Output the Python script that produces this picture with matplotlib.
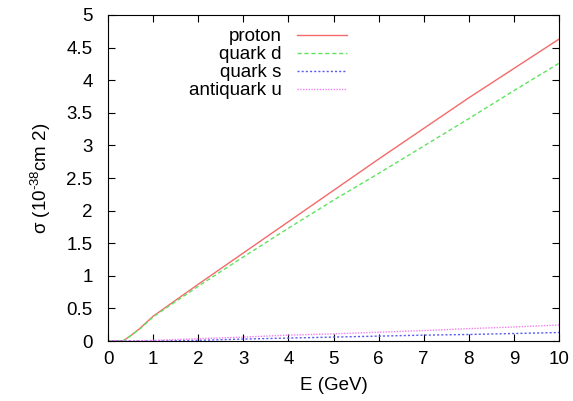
import matplotlib
matplotlib.use("Agg")
import matplotlib.pyplot as plt

plt.rcParams['font.family'] = ['Liberation Sans', 'DejaVu Sans']
plt.rcParams['mathtext.fontset'] = 'custom'
plt.rcParams['mathtext.rm'] = 'Liberation Sans'
plt.rcParams['mathtext.it'] = 'Liberation Sans'

E = [0.0, 0.33, 0.5, 0.7, 1.0, 2.0, 3.0, 4.0, 5.0, 6.0, 7.0, 8.0, 9.0, 10.0]
proton = [0.0, 0.0, 0.08, 0.19, 0.38, 0.87, 1.35, 1.83, 2.31, 2.79, 3.26, 3.73, 4.18, 4.63]
quark_d = [0.0, 0.0, 0.08, 0.18, 0.37, 0.84, 1.29, 1.73, 2.16, 2.57, 2.99, 3.41, 3.84, 4.26]
quark_s = [0.0, 0.0, 0.0, 0.0, 0.0, 0.01, 0.03, 0.045, 0.06, 0.075, 0.09, 0.10, 0.115, 0.13]
antiquark_u = [0.0, 0.0, 0.0, 0.005, 0.01, 0.035, 0.06, 0.09, 0.11, 0.135, 0.16, 0.19, 0.215, 0.245]

xticks = list(range(0, 11))
yticks = [0, 0.5, 1, 1.5, 2, 2.5, 3, 3.5, 4, 4.5, 5]
ytick_labels = ['0', '0.5', '1', '1.5', '2', '2.5', '3', '3.5', '4', '4.5', '5']

fig = plt.figure(figsize=(5.73, 4.01), dpi=100)
ax = fig.add_axes([0.1885, 0.1496, 0.7871, 0.8130])

ax.plot(E, proton, color='#f46a6a', lw=1.0, ls='-', label='proton')
ax.plot(E, quark_d, color='#5fe35f', lw=1.0, ls=(0, (3, 2)), label='quark d')
ax.plot(E, quark_s, color='#5a5af2', lw=1.0, ls=(0, (1.5, 1.5)), label='quark s')
ax.plot(E, antiquark_u, color='#f280f2', lw=1.0, ls=(0, (1, 1)), label='antiquark u')

ax.set_xlim(0, 10)
ax.set_ylim(0, 5)
ax.set_xticks(xticks)
ax.set_yticks(yticks)
ax.set_yticklabels(ytick_labels)
ax.tick_params(direction='in', top=True, right=True, labelsize=13.5, length=5)
ax.tick_params(axis='y', pad=11)
ax.tick_params(axis='x', pad=7)
ax.set_xlabel('E (GeV)', fontsize=13.5, labelpad=7)
ax.set_ylabel('σ (10$^{\\text{-38}}$cm 2)', fontsize=13.5, labelpad=10)

leg = ax.legend(loc='upper left', bbox_to_anchor=(0.15, 1.0), markerfirst=False,
                frameon=False, fontsize=13.5, handlelength=2.7, labelspacing=0.05,
                handletextpad=0.8, borderaxespad=0.3)
for t in leg.get_texts():
    t.set_ha('right')
leg._legend_box.align = 'right'

fig.savefig('out.png', dpi=100)
